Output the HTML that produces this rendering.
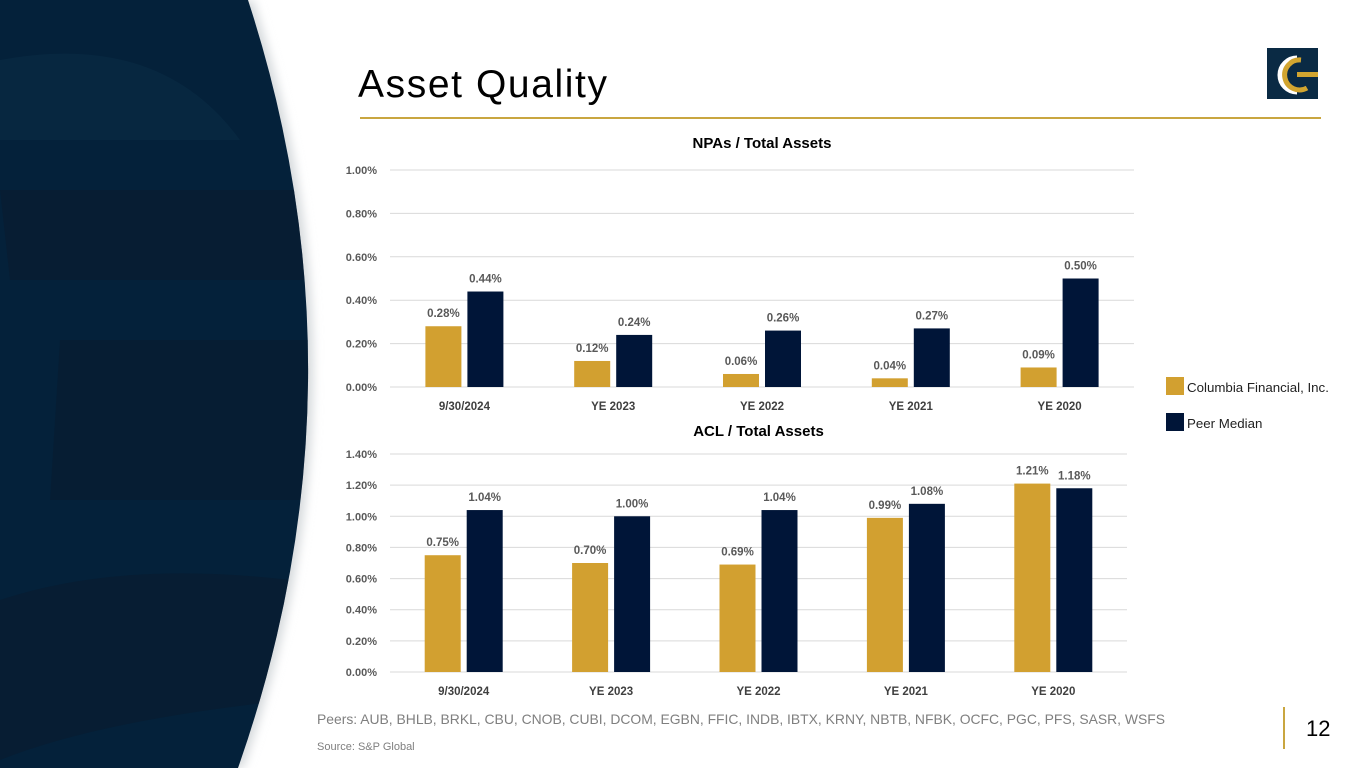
<!DOCTYPE html>
<html><head><meta charset="utf-8">
<style>
html,body{margin:0;padding:0;background:#fff;}
body{width:1365px;height:768px;position:relative;overflow:hidden;font-family:"Liberation Sans",sans-serif;}
.abs{position:absolute;}
</style></head>
<body>
<svg class="abs" style="left:0;top:0" width="1365" height="768">
  <defs>
    <filter id="sh" x="-10%" y="-10%" width="130%" height="120%"><feGaussianBlur stdDeviation="5"/></filter>
    <clipPath id="cp"><path d="M0,0 L248,0 Q373,384 238,768 L0,768 Z"/></clipPath>
  </defs>
  <path d="M0,0 L248,0 Q373,384 238,768 L0,768 Z" fill="#d5d9dc" filter="url(#sh)" transform="translate(5,0)"/>
  <path d="M0,0 L248,0 Q373,384 238,768 L0,768 Z" fill="#04213a"/>
  <g clip-path="url(#cp)">
    <path d="M0,60 Q160,30 240,140 L0,140 Z" fill="#0a2b45" opacity="0.6"/>
    <path d="M0,190 L320,190 L320,280 L10,280 Z" fill="#0a1a2b" opacity="0.5"/>
    <path d="M60,340 L320,340 L320,500 L50,500 Z" fill="#0a1a2b" opacity="0.4"/>
    <path d="M0,600 Q120,560 290,580 L290,700 Q100,720 0,760 Z" fill="#0a1a2b" opacity="0.5"/>
  </g>
</svg>

<div class="abs" style="left:358px;top:63px;font-size:39px;letter-spacing:1.6px;color:#000">Asset Quality</div>
<div class="abs" style="left:360px;top:117px;width:961px;height:2px;background:#c9a640"></div>

<svg class="abs" style="left:1267px;top:48px" width="52" height="52">
  <rect x="0" y="0" width="51" height="51" fill="#0a2a44"/>
  <path d="M30,10 A17,17 0 1 0 30,44" fill="none" stroke="#fff" stroke-width="5"/>
  <path d="M34,12 A15,15 0 1 0 40,40" fill="none" stroke="#d2a530" stroke-width="5"/>
  <rect x="30" y="24" width="21" height="5" fill="#d2a530"/>
</svg>

<svg class="abs" style="left:0;top:0" width="1365" height="768" id="charts"></svg>

<div class="abs" style="left:1166px;top:377px;width:18px;height:18px;background:#d2a030"></div>
<div class="abs" style="left:1187px;top:380px;font-size:13.3px;color:#222">Columbia Financial, Inc.</div>
<div class="abs" style="left:1166px;top:413px;width:18px;height:18px;background:#001538"></div>
<div class="abs" style="left:1187px;top:416px;font-size:13.3px;color:#222">Peer Median</div>

<div class="abs" style="left:317px;top:711px;font-size:13.9px;color:#7f7f7f">Peers: AUB, BHLB, BRKL, CBU, CNOB, CUBI, DCOM, EGBN, FFIC, INDB, IBTX, KRNY, NBTB, NFBK, OCFC, PGC, PFS, SASR, WSFS</div>
<div class="abs" style="left:317px;top:741px;font-size:11px;color:#7f7f7f">Source: S&amp;P Global</div>
<div class="abs" style="left:1283px;top:707px;width:2px;height:42px;background:#c9a640"></div>
<div class="abs" style="left:1306px;top:716px;font-size:22px;color:#000">12</div>

<script>
const categories = ["9/30/2024","YE 2023","YE 2022","YE 2021","YE 2020"];
const npaColumbia = [0.28,0.12,0.06,0.04,0.09];
const npaPeer = [0.44,0.24,0.26,0.27,0.50];
const npaTicks = [0,0.2,0.4,0.6,0.8,1.0];
const aclColumbia = [0.75,0.70,0.69,0.99,1.21];
const aclPeer = [1.04,1.00,1.04,1.08,1.18];
const aclTicks = [0,0.2,0.4,0.6,0.8,1.0,1.2,1.4];

const NS="http://www.w3.org/2000/svg";
const svg=document.getElementById('charts');
function mk(tag,attrs,parent){const e=document.createElementNS(NS,tag);for(const k in attrs)e.setAttribute(k,attrs[k]);(parent||svg).appendChild(e);return e;}

function drawChart(cfg){
  const g=mk('g',{});
  
  
  const maxV=cfg.ticks[cfg.ticks.length-1];
  const y=v=>cfg.y0-(v/maxV)*(cfg.y0-cfg.yTop);
  const band=(cfg.x1-cfg.x0)/categories.length;
  const xc=i=>cfg.x0+band*(i+0.5);
  const t=mk('text',{x:(cfg.x0+cfg.x1)/2,y:cfg.titleY,'text-anchor':'middle','font-size':15,'font-weight':'bold',fill:'#000','font-family':'Liberation Sans, sans-serif'},g);
  t.textContent=cfg.title;
  
  
  cfg.ticks.forEach(v=>{
    const l=mk('line',{x1:cfg.x0,x2:cfg.x1,y1:y(v),y2:y(v),stroke:'#d9d9d9','stroke-width':1},g);
    
    
    const tx=mk('text',{x:cfg.x0-13,y:y(v)+4,'text-anchor':'end','font-size':11,'font-weight':'bold',fill:'#595959'},g);
    tx.textContent=v.toFixed(2)+'%';
    
    
  });
  const bw=36,gap=6;
  categories.forEach((c,i)=>{
    [[cfg.a,'#d2a030',-1],[cfg.b,'#001538',1]].forEach(([arr,col,side])=>{
      const v=arr[i];
      const bx=side<0?xc(i)-gap/2-bw:xc(i)+gap/2;
      const r=mk('rect',{x:bx,y:y(v),width:bw,height:y(0)-y(v),fill:col},g);
      
      
      const lt=mk('text',{x:bx+bw/2,y:y(v)-9,'text-anchor':'middle','font-size':11.5,'font-weight':'bold',fill:'#595959'},g);
      lt.textContent=v.toFixed(2)+'%';
      
      
    });
    const ct=mk('text',{x:xc(i),y:cfg.y0+23,'text-anchor':'middle','font-size':11.5,'font-weight':'bold',fill:'#404040'},g);
    ct.textContent=c;
    
    
  });
}
drawChart({name:'npa-chart',title:'NPAs / Total Assets',titleY:148,x0:390,x1:1134,y0:387,yTop:170,ticks:npaTicks,a:npaColumbia,b:npaPeer});
drawChart({name:'acl-chart',title:'ACL / Total Assets',titleY:436,x0:390,x1:1127,y0:672,yTop:454,ticks:aclTicks,a:aclColumbia,b:aclPeer});
</script>
</body></html>
